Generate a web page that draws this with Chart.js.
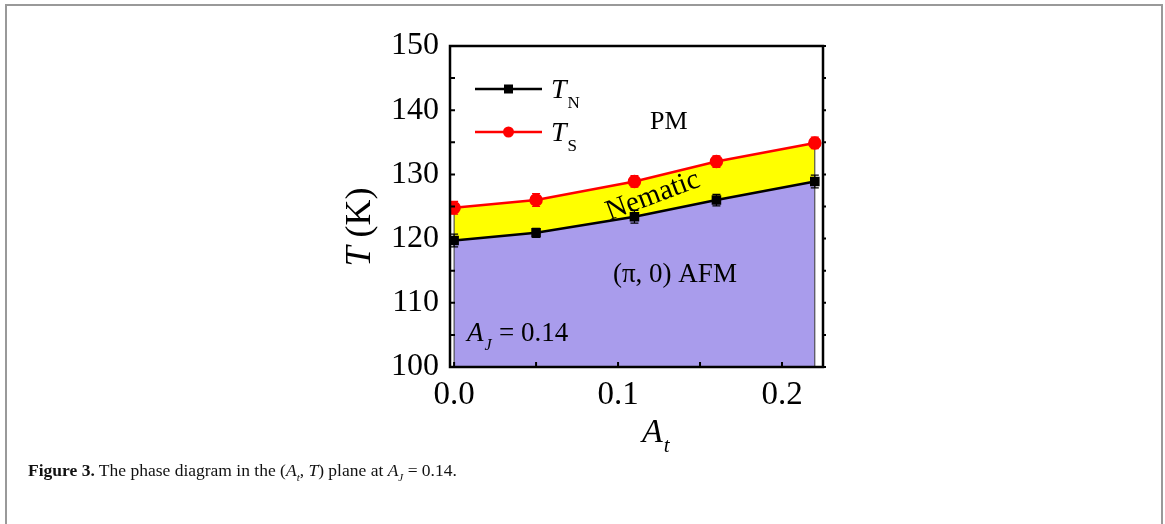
<!DOCTYPE html>
<html>
<head>
<meta charset="utf-8">
<script src="https://cdn.jsdelivr.net/npm/chart.js@4.4.1/dist/chart.umd.min.js"></script>
<style>
  body { margin: 0; background: #fff; }
  #wrap { position: relative; width: 1165px; height: 524px; overflow: hidden; }
  #box { position: absolute; left: 5px; top: 4px; width: 1154px; height: 540px;
         border: 2px solid #999; border-bottom: none; }
  #myChart { position: absolute; left: 0; top: 0; }
  #caption { position: absolute; left: 28px; top: 460px; font-family: "Liberation Serif", serif;
             font-size: 17.5px; color: #111; white-space: nowrap; }
  #caption i sub { font-size: 11px; }
</style>
</head>
<body>
<div id="wrap">
  <div id="box"></div>
  <canvas id="myChart" width="1165" height="524"></canvas>
  <div id="caption"><b>Figure 3.</b> The phase diagram in the (<i>A<sub>t</sub></i>, <i>T</i>) plane at <i>A<sub>J</sub></i> = 0.14.</div>
</div>
<script>
var xValues = [0, 0.05, 0.11, 0.16, 0.22];
var tnValues = [119.7, 120.9, 123.4, 126.0, 128.9];
var tsValues = [124.8, 126.0, 128.9, 132.0, 134.9];
var tnErr = [1, 0.7, 1, 0.9, 1];
var tsErr = [1, 1, 0.9, 0.9, 0.9];
var xTicks = [0, 0.1, 0.2];
var yTicks = [100, 110, 120, 130, 140, 150];
var serif = "'Liberation Serif', 'Times New Roman', serif";

function toPoints(ys) {
    return xValues.map(function (x, i) { return { x: x, y: ys[i] }; });
}

// error bars, drawn under the markers
var errorBars = {
    id: 'errorBars',
    beforeDatasetsDraw: function (chart) {
        var ctx = chart.ctx;
        var xs = chart.scales.x, ys = chart.scales.y;
        var sets = [[tnValues, tnErr, '#000'], [tsValues, tsErr, '#ff0000']];
        ctx.save();
        // thin edges of the filled regions
        ctx.strokeStyle = '#333';
        ctx.lineWidth = 1;
        [0, xValues.length - 1].forEach(function (i) {
            var px = xs.getPixelForValue(xValues[i]);
            ctx.beginPath();
            ctx.moveTo(px, ys.getPixelForValue(tsValues[i]));
            ctx.lineTo(px, chart.chartArea.bottom);
            ctx.stroke();
        });
        sets.forEach(function (s) {
            ctx.strokeStyle = s[2];
            ctx.lineWidth = 1.2;
            xValues.forEach(function (x, i) {
                var px = xs.getPixelForValue(x);
                var top = ys.getPixelForValue(s[0][i] + s[1][i]);
                var bot = ys.getPixelForValue(s[0][i] - s[1][i]);
                ctx.beginPath();
                ctx.moveTo(px, top); ctx.lineTo(px, bot);
                ctx.moveTo(px - 4, top); ctx.lineTo(px + 4, top);
                ctx.moveTo(px - 4, bot); ctx.lineTo(px + 4, bot);
                ctx.stroke();
            });
        });
        ctx.restore();
    }
};

function sub(ctx, main, small, x, y, mainFont, smallFont, dy) {
    ctx.font = mainFont;
    ctx.fillText(main, x, y);
    var w = ctx.measureText(main).width;
    ctx.font = smallFont;
    ctx.fillText(small, x + w + 1, y + dy);
}

// frame, inward ticks, legend, labels
var decor = {
    id: 'decor',
    afterDraw: function (chart) {
        var ctx = chart.ctx;
        var a = chart.chartArea;
        var xs = chart.scales.x, ys = chart.scales.y;
        ctx.save();
        ctx.strokeStyle = '#000';
        ctx.lineWidth = 2.5;
        ctx.strokeRect(a.left, a.top, a.right - a.left, a.bottom - a.top);
        ctx.lineWidth = 2;
        ctx.beginPath();
        for (var v = 100; v <= 150; v += 5) {
            var py = ys.getPixelForValue(v);
            ctx.moveTo(a.left, py); ctx.lineTo(a.left + 5, py);
            ctx.moveTo(a.right, py); ctx.lineTo(a.right + 3, py);
        }
        [0, 0.05, 0.1, 0.15, 0.2].forEach(function (v) {
            var px = xs.getPixelForValue(v);
            ctx.moveTo(px, a.bottom); ctx.lineTo(px, a.bottom - 5);
        });
        ctx.stroke();

        // legend
        var items = [[89, '#000', 'rect', 'N'], [132, '#ff0000', 'circle', 'S']];
        items.forEach(function (it) {
            ctx.strokeStyle = it[1];
            ctx.fillStyle = it[1];
            ctx.lineWidth = 2.5;
            ctx.beginPath();
            ctx.moveTo(475, it[0]); ctx.lineTo(542, it[0]);
            ctx.stroke();
            ctx.beginPath();
            if (it[2] === 'rect') ctx.rect(504, it[0] - 4.5, 9, 9);
            else ctx.arc(508.5, it[0], 5.5, 0, Math.PI * 2);
            ctx.fill();
            ctx.fillStyle = '#000';
            ctx.textBaseline = 'alphabetic';
            ctx.textAlign = 'left';
            sub(ctx, 'T', it[3], 551, it[0] + 9, 'italic 28px ' + serif, '17px ' + serif, 10);
        });

        ctx.fillStyle = '#000';
        ctx.textAlign = 'left';
        ctx.font = '26px ' + serif;
        ctx.fillText('PM', 650, 129);
        ctx.font = '27px ' + serif;
        ctx.fillText('(\u03c0, 0) AFM', 613, 282);
        sub(ctx, 'A', 'J', 467, 341, 'italic 27px ' + serif, 'italic 16px ' + serif, 9);
        ctx.font = '27px ' + serif;
        ctx.fillText('= 0.14', 499, 341);

        // rotated "Nematic"
        ctx.save();
        ctx.translate(653, 196);
        ctx.rotate(-20.5 * Math.PI / 180);
        ctx.textAlign = 'center';
        ctx.textBaseline = 'middle';
        ctx.font = '29px ' + serif;
        ctx.fillText('Nematic', 0, 0);
        ctx.restore();

        // axis titles
        ctx.save();
        ctx.translate(370, 227);
        ctx.rotate(-Math.PI / 2);
        ctx.textAlign = 'left';
        ctx.textBaseline = 'alphabetic';
        ctx.font = 'italic 36px ' + serif;
        var tw = ctx.measureText('T').width;
        ctx.font = '36px ' + serif;
        var kw = ctx.measureText(' (K)').width;
        var x0 = -(tw + kw) / 2;
        ctx.font = 'italic 36px ' + serif;
        ctx.fillText('T', x0, 0);
        ctx.font = '36px ' + serif;
        ctx.fillText(' (K)', x0 + tw, 0);
        ctx.restore();

        sub(ctx, 'A', 't', 642, 442, 'italic 34px ' + serif, 'italic 21px ' + serif, 10);
        ctx.restore();
    }
};

new Chart("myChart", {
    type: "line",
    data: {
        datasets: [{
            label: "TN",
            data: toPoints(tnValues),
            borderColor: "#000",
            backgroundColor: "#a99cec",
            pointBackgroundColor: "#000",
            pointBorderColor: "#000",
            pointStyle: "rect",
            pointRadius: 5,
            borderWidth: 2.5,
            fill: "start"
        }, {
            label: "TS",
            data: toPoints(tsValues),
            borderColor: "#ff0000",
            backgroundColor: "#ffff00",
            pointBackgroundColor: "#ff0000",
            pointBorderColor: "#ff0000",
            pointStyle: "circle",
            pointRadius: 5.5,
            borderWidth: 2.5,
            fill: "-1"
        }]
    },
    options: {
        responsive: false,
        animation: false,
        layout: { padding: { left: 300, right: 342, top: 46, bottom: 0 } },
        plugins: {
            legend: { display: false },
            tooltip: { enabled: false },
            filler: { drawTime: "beforeDatasetsDraw" }
        },
        scales: {
            x: {
                type: "linear",
                min: -0.0025,
                max: 0.225,
                afterFit: function (s) { s.height = 157; },
                afterBuildTicks: function (s) { s.ticks = xTicks.map(function (v) { return { value: v }; }); },
                grid: { display: false },
                border: { display: false },
                ticks: {
                    padding: 1,
                    color: "#000",
                    font: { family: serif, size: 33 },
                    callback: function (v) { return v.toFixed(1); }
                }
            },
            y: {
                min: 100,
                max: 150,
                afterFit: function (s) { s.width = 150; },
                afterBuildTicks: function (s) { s.ticks = yTicks.map(function (v) { return { value: v }; }); },
                grid: { display: false },
                border: { display: false },
                ticks: {
                    padding: 3,
                    color: "#000",
                    font: { family: serif, size: 32 }
                }
            }
        }
    },
    plugins: [errorBars, decor]
});
</script>
</body>
</html>
